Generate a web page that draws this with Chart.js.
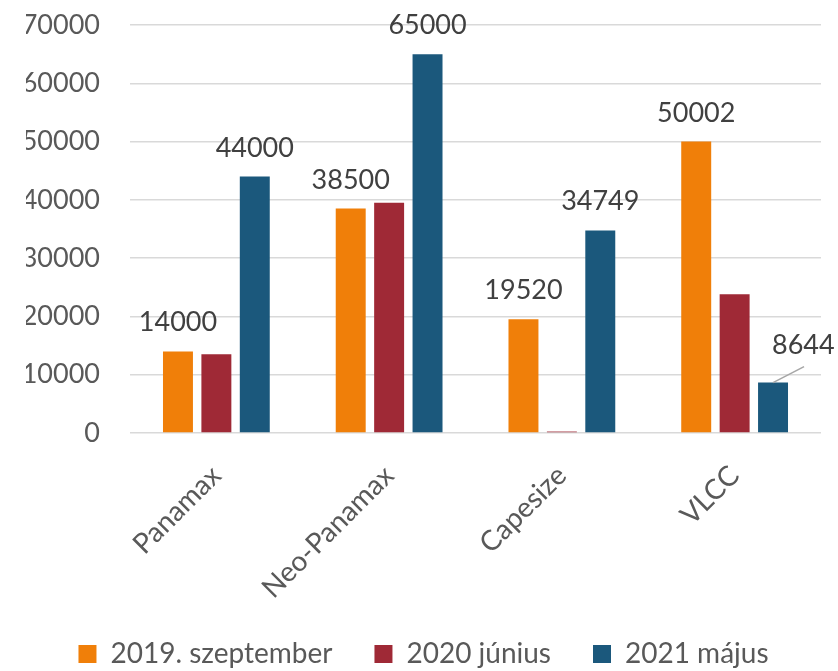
<!DOCTYPE html>
<html>
<head>
<meta charset="utf-8">
<script src="https://cdn.jsdelivr.net/npm/chart.js@4"></script>
<style>
  html, body { margin: 0; padding: 0; background: #fff; }
</style>
</head>
<body>
<canvas id="bars" width="838" height="671"></canvas>
<script>
// values
const categories = ['Panamax', 'Neo-Panamax', 'Capesize', 'VLCC'];
const seriesNames = ['2019. szeptember', '2020 június', '2021 május'];
const sept2019 = [14000, 38500, 19520, 50002];
const june2020 = [13500, 39500, 250, 23800];
const may2021 = [44000, 65000, 34749, 8644];
const yMin = 0;
const yMax = 70000;
const yStep = 10000;

const colors = ['#F07F09', '#9F2936', '#1B587C'];
const labelledSeries = [0, 2];

// value labels above the orange and blue bars, the small VLCC bar gets a callout
const valueLabels = {
  id: 'valueLabels',
  afterDatasetsDraw(chart) {
    const ctx = chart.ctx;
    ctx.save();
    ctx.font = '27px Lato';
    ctx.fillStyle = '#404040';
    ctx.textAlign = 'center';
    ctx.textBaseline = 'alphabetic';
    labelledSeries.forEach(di => {
      const meta = chart.getDatasetMeta(di);
      const values = chart.data.datasets[di].data;
      meta.data.forEach((bar, i) => {
        const txt = String(values[i]);
        if (di === 2 && i === 3) {
          ctx.strokeStyle = '#a6a6a6';
          ctx.lineWidth = 1.5;
          ctx.beginPath();
          ctx.moveTo(bar.x, bar.y);
          ctx.lineTo(bar.x + 31, bar.y - 16);
          ctx.stroke();
          ctx.textAlign = 'left';
          ctx.fillText(txt, bar.x - 1, bar.y - 29);
          ctx.textAlign = 'center';
        } else {
          ctx.fillText(txt, bar.x, bar.y - 20);
        }
      });
    });
    ctx.restore();
  }
};

new Chart(document.getElementById('bars'), {
  type: 'bar',
  data: {
    labels: categories,
    datasets: [
      { label: seriesNames[0], data: sept2019, backgroundColor: colors[0] },
      { label: seriesNames[1], data: june2020, backgroundColor: colors[1] },
      { label: seriesNames[2], data: may2021, backgroundColor: colors[2] }
    ]
  },
  options: {
    responsive: false,
    animation: false,
    categoryPercentage: 0.667,
    barPercentage: 0.78,
    layout: { padding: { top: 25, left: 26, right: 17, bottom: -7 } },
    scales: {
      x: {
        grid: { display: false },
        border: { display: false },
        ticks: {
          minRotation: 45,
          maxRotation: 45,
          padding: 18,
          color: '#595959',
          font: { family: 'Lato', size: 28 }
        },
        afterFit: (scale) => { scale.height = 165; }
      },
      y: {
        min: yMin,
        max: yMax,
        grid: { color: '#d9d9d9', lineWidth: 1.5, drawTicks: false },
        border: { display: false },
        ticks: {
          stepSize: yStep,
          padding: 30,
          color: '#595959',
          font: { family: 'Lato', size: 27 },
          callback: (v) => String(v)
        },
        afterFit: (scale) => {
          scale.width = 104;
          scale.paddingTop = 0;
          scale.paddingBottom = 0;
        }
      }
    },
    plugins: {
      legend: {
        position: 'bottom',
        labels: {
          boxWidth: 18,
          boxHeight: 18,
          padding: 42,
          color: '#595959',
          font: { family: 'Lato', size: 28 }
        }
      },
      tooltip: { enabled: false },
      title: { display: false }
    }
  },
  plugins: [valueLabels]
});
</script>
</body>
</html>
